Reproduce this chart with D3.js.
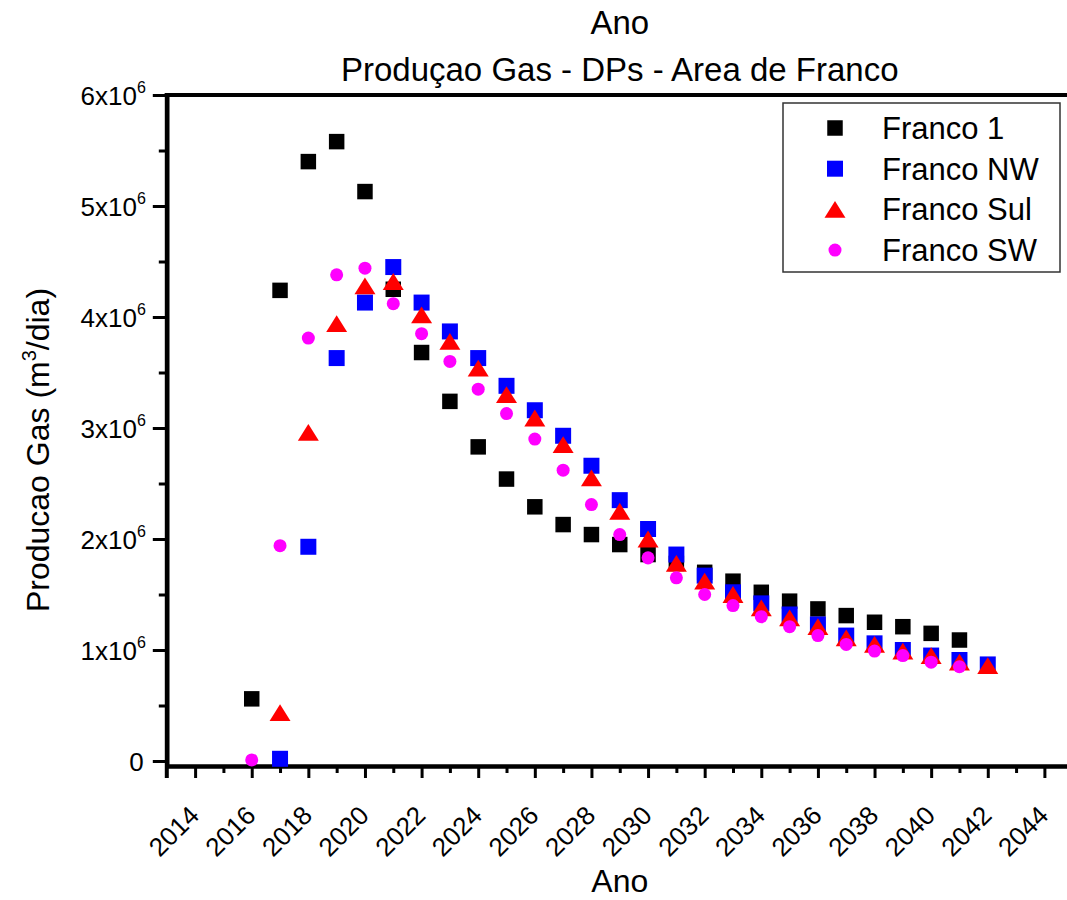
<!DOCTYPE html>
<html>
<head>
<meta charset="utf-8">
<script src="https://cdn.jsdelivr.net/npm/d3@7"></script>
<style>
  body { margin: 0; background: #fff; }
  text { font-family: "Liberation Sans", Arial, sans-serif; fill: #000; }
</style>
</head>
<body>
<div id="main"></div>
<script>
//chart data (m3/dia), null = no point that year
const years = [2016, 2017, 2018, 2019, 2020, 2021, 2022, 2023, 2024, 2025, 2026, 2027, 2028, 2029,
               2030, 2031, 2032, 2033, 2034, 2035, 2036, 2037, 2038, 2039, 2040, 2041, 2042];
const franco1 = [0.56e6, 4.24e6, 5.40e6, 5.58e6, 5.13e6, 4.25e6, 3.68e6, 3.24e6, 2.83e6, 2.54e6, 2.29e6, 2.13e6, 2.04e6, 1.95e6,
                 1.86e6, 1.78e6, 1.70e6, 1.62e6, 1.52e6, 1.44e6, 1.37e6, 1.31e6, 1.25e6, 1.21e6, 1.15e6, 1.09e6, null];
const francoNW = [null, 0.02e6, 1.93e6, 3.63e6, 4.13e6, 4.45e6, 4.13e6, 3.87e6, 3.63e6, 3.38e6, 3.16e6, 2.93e6, 2.66e6, 2.35e6,
                  2.09e6, 1.86e6, 1.67e6, 1.52e6, 1.42e6, 1.32e6, 1.23e6, 1.13e6, 1.06e6, 1.00e6, 0.95e6, 0.91e6, 0.87e6];
const francoSul = [null, 0.435e6, 2.96e6, 3.94e6, 4.28e6, 4.32e6, 4.02e6, 3.78e6, 3.54e6, 3.30e6, 3.09e6, 2.85e6, 2.55e6, 2.25e6,
                   2.00e6, 1.78e6, 1.62e6, 1.50e6, 1.38e6, 1.29e6, 1.21e6, 1.11e6, 1.05e6, 0.99e6, 0.95e6, 0.89e6, 0.86e6];
const francoSW = [0.01e6, 1.94e6, 3.81e6, 4.38e6, 4.44e6, 4.12e6, 3.85e6, 3.60e6, 3.35e6, 3.13e6, 2.90e6, 2.62e6, 2.31e6, 2.04e6,
                  1.83e6, 1.65e6, 1.50e6, 1.40e6, 1.30e6, 1.21e6, 1.13e6, 1.05e6, 0.99e6, 0.95e6, 0.89e6, 0.85e6, null];
const seriesNames = ["Franco 1", "Franco NW", "Franco Sul", "Franco SW"];
const xTicks = [2014, 2016, 2018, 2020, 2022, 2024, 2026, 2028, 2030, 2032, 2034, 2036, 2038, 2040, 2042, 2044];
const yTicks = [0, 1e6, 2e6, 3e6, 4e6, 5e6, 6e6];

//size
const width = 1067;
const height = 900;

const svg = d3.select('#main')
              .append('svg')
              .attr('width', width)
              .attr('height', height);

//scales
const xScale = d3.scaleLinear().domain([2013, 2045]).range([166.8, 1072.7]);
const yScale = d3.scaleLinear().domain([-0.045e6, 6e6]).range([766, 95]);

//wide triangle like the Origin one
const wideTriangle = {
  draw(context, size) {
    const s = Math.sqrt(size);
    context.moveTo(0, -s * 0.48);
    context.lineTo(s * 0.6, s * 0.48);
    context.lineTo(-s * 0.6, s * 0.48);
    context.closePath();
  }
};

const styles = [
  {name: seriesNames[0], values: franco1, color: "#000000", type: d3.symbolSquare, size: 240},
  {name: seriesNames[1], values: francoNW, color: "#0000ff", type: d3.symbolSquare, size: 256},
  {name: seriesNames[2], values: francoSul, color: "#ff0000", type: wideTriangle, size: 306},
  {name: seriesNames[3], values: francoSW, color: "#ff00ff", type: d3.symbolCircle, size: 133}
];

//y axis major + minor
const yAxis = d3.axisLeft(yScale).tickValues(yTicks).tickSize(14).tickSizeOuter(0).tickFormat("");
const yMinor = d3.axisLeft(yScale).tickValues([0.5e6, 1.5e6, 2.5e6, 3.5e6, 4.5e6, 5.5e6]).tickSize(8).tickSizeOuter(0).tickFormat("");

svg.append("g").attr("class", "y-minor")
   .attr("transform", "translate(166.8,0)")
   .call(yMinor);

const gy = svg.append("g").attr("id", "y-axis")
   .attr("transform", "translate(166.8,0)")
   .call(yAxis);

gy.selectAll(".tick text").each(function(d) {
  const t = d3.select(this)
    .attr("x", -21).attr("dy", null).attr("y", 9)
    .style("font-size", "26px").attr("text-anchor", "end");
  if (d === 0) {
    t.attr("x", -23).text("0");
  } else {
    t.append("tspan").text((d / 1e6) + "x10");
    t.append("tspan").attr("dy", -12).style("font-size", "16px").text("6");
  }
});

//x axis major + minor
const xAxis = d3.axisBottom(xScale).tickValues(xTicks).tickSize(12).tickSizeOuter(0).tickFormat(d3.format("d"));
const xMinor = d3.axisBottom(xScale).tickValues(d3.range(2015, 2045, 2)).tickSize(7).tickSizeOuter(0).tickFormat("");

svg.append("g").attr("class", "x-minor")
   .attr("transform", "translate(0,766)")
   .call(xMinor);

const gx = svg.append("g").attr("id", "x-axis")
   .attr("transform", "translate(0,766)")
   .call(xAxis);

gx.selectAll(".tick text")
  .attr("x", 0).attr("y", 0).attr("dy", null)
  .attr("transform", "translate(5,51) rotate(-45)")
  .attr("text-anchor", "end")
  .style("font-size", "26px");

//axis line styles
svg.selectAll(".domain").attr("stroke", "#000").attr("stroke-width", 4);
svg.selectAll(".tick line").attr("stroke", "#000").attr("stroke-width", 3);
svg.selectAll(".tick text").attr("fill", "#000").style("font-family", '"Liberation Sans", Arial, sans-serif');

//top frame line and stretch left spine to bottom
svg.append("line")
   .attr("x1", 164.8).attr("x2", width)
   .attr("y1", 95).attr("y2", 95)
   .attr("stroke", "#000").attr("stroke-width", 4);
svg.append("line")
   .attr("x1", 166.8).attr("x2", 166.8)
   .attr("y1", 93).attr("y2", 778)
   .attr("stroke", "#000").attr("stroke-width", 4);

//points
styles.forEach(s => {
  const pts = years.map((y, i) => [y, s.values[i]]).filter(p => p[1] !== null);
  svg.append("g").attr("class", "series")
     .selectAll("path").data(pts).enter()
     .append("path")
     .attr("transform", d => "translate(" + xScale(d[0]) + "," + yScale(d[1]) + ")")
     .attr("d", d3.symbol().type(s.type).size(s.size))
     .attr("fill", s.color);
});

//titles
const cx = (166.8 + 1072.7) / 2;
svg.append("text").attr("x", cx).attr("y", 34)
   .attr("text-anchor", "middle").style("font-size", "33px").text("Ano");
svg.append("text").attr("x", cx).attr("y", 81)
   .attr("text-anchor", "middle").style("font-size", "33px").text("Produçao Gas - DPs - Area de Franco");
svg.append("text").attr("x", cx).attr("y", 892)
   .attr("text-anchor", "middle").style("font-size", "32px").text("Ano");

const ylab = svg.append("text")
   .attr("transform", "translate(49,450) rotate(-90)")
   .attr("text-anchor", "middle").style("font-size", "32px");
ylab.append("tspan").text("Producao Gas (m");
ylab.append("tspan").attr("dy", -13).style("font-size", "20px").text("3");
ylab.append("tspan").attr("dy", 13).text("/dia)");

//legend
const legend = svg.append("g").attr("id", "legend");
legend.append("rect")
   .attr("x", 783).attr("y", 103)
   .attr("width", 277).attr("height", 169)
   .attr("fill", "#fff").attr("stroke", "#333").attr("stroke-width", 1.5);

const items = legend.selectAll(".legend-label").data(styles).enter()
   .append("g").attr("class", "legend-label")
   .attr("transform", (d, i) => "translate(0," + (128 + i * 40.7) + ")");

items.append("path")
   .attr("transform", "translate(835,0)")
   .attr("d", d => d3.symbol().type(d.type).size(d.size)())
   .attr("fill", d => d.color);

items.append("text")
   .attr("x", 882).attr("y", 11)
   .style("font-size", "31px")
   .text(d => d.name);
</script>
</body>
</html>
